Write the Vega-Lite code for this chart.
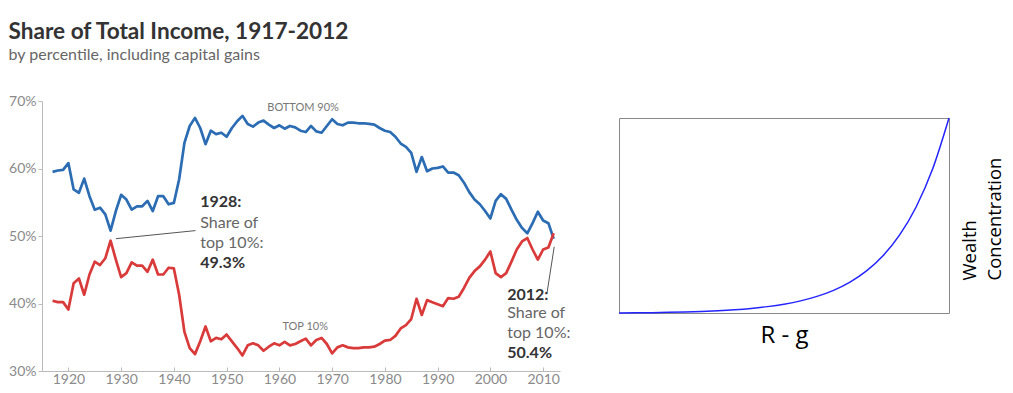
{
  "$schema": "https://vega.github.io/schema/vega-lite/v6.json",
  "background": "white",
  "padding": {"left": 8, "top": 21, "right": 0, "bottom": 0},
  "config": {"view": {"stroke": null}, "font": "Lato"},
  "spacing": 44,
  "hconcat": [
    {
      "width": 518,
      "height": 270,
      "title": {
        "text": "Share of Total Income, 1917-2012",
        "subtitle": "by percentile, including capital gains",
        "anchor": "start",
        "frame": "bounds",
        "font": "Lato",
        "fontSize": 22.6,
        "fontWeight": "bold",
        "color": "#333333",
        "subtitleFont": "Lato",
        "subtitleFontSize": 16,
        "subtitleColor": "#666666",
        "subtitlePadding": 3,
        "offset": 31
      },
      "layer": [
        {
          "data": {
            "values": [
              {"year": 1917, "bottom90": 59.5, "top10": 40.4},
              {"year": 1918, "bottom90": 59.7, "top10": 40.2},
              {"year": 1919, "bottom90": 59.8, "top10": 40.2},
              {"year": 1920, "bottom90": 60.8, "top10": 39.1},
              {"year": 1921, "bottom90": 56.9, "top10": 43.0},
              {"year": 1922, "bottom90": 56.4, "top10": 43.7},
              {"year": 1923, "bottom90": 58.5, "top10": 41.3},
              {"year": 1924, "bottom90": 55.9, "top10": 44.3},
              {"year": 1925, "bottom90": 53.9, "top10": 46.2},
              {"year": 1926, "bottom90": 54.2, "top10": 45.7},
              {"year": 1927, "bottom90": 53.2, "top10": 46.7},
              {"year": 1928, "bottom90": 50.8, "top10": 49.3},
              {"year": 1929, "bottom90": 53.7, "top10": 46.5},
              {"year": 1930, "bottom90": 56.1, "top10": 43.9},
              {"year": 1931, "bottom90": 55.4, "top10": 44.5},
              {"year": 1932, "bottom90": 53.9, "top10": 46.1},
              {"year": 1933, "bottom90": 54.4, "top10": 45.6},
              {"year": 1934, "bottom90": 54.4, "top10": 45.6},
              {"year": 1935, "bottom90": 55.2, "top10": 44.7},
              {"year": 1936, "bottom90": 53.7, "top10": 46.5},
              {"year": 1937, "bottom90": 55.9, "top10": 44.3},
              {"year": 1938, "bottom90": 55.9, "top10": 44.3},
              {"year": 1939, "bottom90": 54.7, "top10": 45.3},
              {"year": 1940, "bottom90": 54.9, "top10": 45.2},
              {"year": 1941, "bottom90": 58.4, "top10": 41.3},
              {"year": 1942, "bottom90": 63.8, "top10": 35.8},
              {"year": 1943, "bottom90": 66.3, "top10": 33.4},
              {"year": 1944, "bottom90": 67.5, "top10": 32.5},
              {"year": 1945, "bottom90": 66.0, "top10": 34.4},
              {"year": 1946, "bottom90": 63.6, "top10": 36.6},
              {"year": 1947, "bottom90": 65.6, "top10": 34.4},
              {"year": 1948, "bottom90": 65.1, "top10": 34.9},
              {"year": 1949, "bottom90": 65.3, "top10": 34.7},
              {"year": 1950, "bottom90": 64.7, "top10": 35.4},
              {"year": 1951, "bottom90": 66.0, "top10": 34.4},
              {"year": 1952, "bottom90": 67.0, "top10": 33.4},
              {"year": 1953, "bottom90": 67.8, "top10": 32.3},
              {"year": 1954, "bottom90": 66.6, "top10": 33.8},
              {"year": 1955, "bottom90": 66.2, "top10": 34.1},
              {"year": 1956, "bottom90": 66.8, "top10": 33.8},
              {"year": 1957, "bottom90": 67.1, "top10": 33.0},
              {"year": 1958, "bottom90": 66.5, "top10": 33.6},
              {"year": 1959, "bottom90": 66.0, "top10": 34.1},
              {"year": 1960, "bottom90": 66.4, "top10": 33.8},
              {"year": 1961, "bottom90": 65.9, "top10": 34.3},
              {"year": 1962, "bottom90": 66.3, "top10": 33.8},
              {"year": 1963, "bottom90": 66.1, "top10": 34.0},
              {"year": 1964, "bottom90": 65.6, "top10": 34.4},
              {"year": 1965, "bottom90": 65.4, "top10": 34.8},
              {"year": 1966, "bottom90": 66.3, "top10": 33.8},
              {"year": 1967, "bottom90": 65.5, "top10": 34.6},
              {"year": 1968, "bottom90": 65.3, "top10": 34.9},
              {"year": 1969, "bottom90": 66.3, "top10": 34.0},
              {"year": 1970, "bottom90": 67.3, "top10": 32.6},
              {"year": 1971, "bottom90": 66.6, "top10": 33.5},
              {"year": 1972, "bottom90": 66.4, "top10": 33.8},
              {"year": 1973, "bottom90": 66.8, "top10": 33.5},
              {"year": 1974, "bottom90": 66.8, "top10": 33.4},
              {"year": 1975, "bottom90": 66.7, "top10": 33.4},
              {"year": 1976, "bottom90": 66.7, "top10": 33.5},
              {"year": 1977, "bottom90": 66.6, "top10": 33.5},
              {"year": 1978, "bottom90": 66.5, "top10": 33.6},
              {"year": 1979, "bottom90": 66.0, "top10": 34.0},
              {"year": 1980, "bottom90": 65.6, "top10": 34.5},
              {"year": 1981, "bottom90": 65.4, "top10": 34.6},
              {"year": 1982, "bottom90": 64.7, "top10": 35.2},
              {"year": 1983, "bottom90": 63.7, "top10": 36.3},
              {"year": 1984, "bottom90": 63.2, "top10": 36.8},
              {"year": 1985, "bottom90": 62.3, "top10": 37.7},
              {"year": 1986, "bottom90": 59.5, "top10": 40.7},
              {"year": 1987, "bottom90": 61.7, "top10": 38.3},
              {"year": 1988, "bottom90": 59.6, "top10": 40.5},
              {"year": 1989, "bottom90": 60.0, "top10": 40.2},
              {"year": 1990, "bottom90": 60.1, "top10": 39.9},
              {"year": 1991, "bottom90": 60.3, "top10": 39.6},
              {"year": 1992, "bottom90": 59.4, "top10": 40.8},
              {"year": 1993, "bottom90": 59.4, "top10": 40.7},
              {"year": 1994, "bottom90": 59.0, "top10": 41.0},
              {"year": 1995, "bottom90": 57.9, "top10": 42.3},
              {"year": 1996, "bottom90": 56.5, "top10": 43.8},
              {"year": 1997, "bottom90": 55.4, "top10": 44.8},
              {"year": 1998, "bottom90": 54.7, "top10": 45.5},
              {"year": 1999, "bottom90": 53.7, "top10": 46.5},
              {"year": 2000, "bottom90": 52.6, "top10": 47.7},
              {"year": 2001, "bottom90": 55.2, "top10": 44.5},
              {"year": 2002, "bottom90": 56.2, "top10": 43.9},
              {"year": 2003, "bottom90": 55.5, "top10": 44.5},
              {"year": 2004, "bottom90": 53.9, "top10": 46.2},
              {"year": 2005, "bottom90": 52.4, "top10": 48.0},
              {"year": 2006, "bottom90": 51.2, "top10": 49.2},
              {"year": 2007, "bottom90": 50.4, "top10": 49.7},
              {"year": 2008, "bottom90": 51.9, "top10": 48.0},
              {"year": 2009, "bottom90": 53.6, "top10": 46.5},
              {"year": 2010, "bottom90": 52.3, "top10": 48.0},
              {"year": 2011, "bottom90": 51.9, "top10": 48.3},
              {"year": 2012, "bottom90": 49.6, "top10": 50.4}
            ]
          },
          "transform": [{"fold": ["bottom90", "top10"], "as": ["series", "share"]}],
          "mark": {"type": "line", "strokeWidth": 2.7, "strokeJoin": "round"},
          "encoding": {
            "x": {
              "field": "year",
              "type": "quantitative",
              "scale": {"domain": [1915, 2013.2], "nice": false, "zero": false},
              "axis": {
                "title": null,
                "values": [1920, 1930, 1940, 1950, 1960, 1970, 1980, 1990, 2000, 2010],
                "format": "d",
                "grid": false,
                "domainColor": "#bbbbbb",
                "tickColor": "#bbbbbb",
                "tickSize": -4,
                "labelPadding": 5,
                "labelColor": "#8a8a8a",
                "labelFont": "Lato",
                "labelFontSize": 14
              }
            },
            "y": {
              "field": "share",
              "type": "quantitative",
              "scale": {"domain": [30, 70], "nice": false, "zero": false},
              "axis": {
                "title": null,
                "values": [30, 35, 40, 45, 50, 55, 60, 65, 70],
                "labelExpr": "datum.value + '%'",
                "grid": false,
                "domainColor": "#bbbbbb",
                "tickColor": "#bbbbbb",
                "tickSize": 4,
                "labelPadding": 2,
                "labelColor": "#8a8a8a",
                "labelFont": "Lato",
                "labelFontSize": 14
              }
            },
            "color": {
              "field": "series",
              "type": "nominal",
              "scale": {"domain": ["bottom90", "top10"], "range": ["#2b6cb3", "#d93a3a"]},
              "legend": null
            }
          }
        },
        {
          "data": {
            "values": [
              {"year": 1929, "share": 49.6, "year2": 1944.1, "share2": 50.8},
              {"year": 2010.75, "share": 41.6, "year2": 2012.1, "share2": 48.4}
            ]
          },
          "mark": {"type": "rule", "color": "#555555", "strokeWidth": 1},
          "encoding": {
            "x": {"field": "year", "type": "quantitative"},
            "y": {"field": "share", "type": "quantitative"},
            "x2": {"field": "year2"},
            "y2": {"field": "share2"}
          }
        },
        {
          "data": {
            "values": [
              {"year": 1945, "share": 55.0, "label": "1928:"},
              {"year": 1945, "share": 46.0, "label": "49.3%"},
              {"year": 2003.2, "share": 41.3, "label": "2012:"},
              {"year": 2003.2, "share": 32.7, "label": "50.4%"}
            ]
          },
          "mark": {"type": "text", "align": "left", "baseline": "middle", "font": "Lato", "fontSize": 16, "fontWeight": "bold", "color": "#333333"},
          "encoding": {
            "x": {"field": "year", "type": "quantitative"},
            "y": {"field": "share", "type": "quantitative"},
            "text": {"field": "label"}
          }
        },
        {
          "data": {
            "values": [
              {"year": 1945, "share": 52.0, "label": "Share of"},
              {"year": 1945, "share": 49.0, "label": "top 10%:"},
              {"year": 2003.2, "share": 38.6, "label": "Share of"},
              {"year": 2003.2, "share": 35.7, "label": "top 10%:"}
            ]
          },
          "mark": {"type": "text", "align": "left", "baseline": "middle", "font": "Lato", "fontSize": 16, "color": "#666666"},
          "encoding": {
            "x": {"field": "year", "type": "quantitative"},
            "y": {"field": "share", "type": "quantitative"},
            "text": {"field": "label"}
          }
        },
        {
          "data": {
            "values": [
              {"year": 1964.5, "share": 69.0, "label": "BOTTOM 90%"},
              {"year": 1964.9, "share": 36.5, "label": "TOP 10%"}
            ]
          },
          "mark": {"type": "text", "align": "center", "baseline": "middle", "font": "Lato", "fontSize": 11, "color": "#777777"},
          "encoding": {
            "x": {"field": "year", "type": "quantitative"},
            "y": {"field": "share", "type": "quantitative"},
            "text": {"field": "label"}
          }
        }
      ]
    },
    {
      "spacing": 7,
      "vconcat": [
        {
          "width": 330,
          "height": 1,
          "data": {"values": [{"blank": ""}]},
          "mark": {"type": "text", "opacity": 0},
          "encoding": {"text": {"field": "blank"}}
        },
        {
          "width": 330,
          "height": 195,
          "view": {"stroke": "#888888", "strokeWidth": 1},
          "data": {
            "values": [
              {"rg": 0.0, "wc": 0.0},
              {"rg": 0.05, "wc": 0.0008},
              {"rg": 0.1, "wc": 0.0019},
              {"rg": 0.15, "wc": 0.0034},
              {"rg": 0.2, "wc": 0.0054},
              {"rg": 0.25, "wc": 0.0081},
              {"rg": 0.3, "wc": 0.0118},
              {"rg": 0.35, "wc": 0.0168},
              {"rg": 0.4, "wc": 0.0235},
              {"rg": 0.45, "wc": 0.0327},
              {"rg": 0.5, "wc": 0.0452},
              {"rg": 0.55, "wc": 0.0621},
              {"rg": 0.6, "wc": 0.0851},
              {"rg": 0.65, "wc": 0.1163},
              {"rg": 0.7, "wc": 0.1585},
              {"rg": 0.75, "wc": 0.2158},
              {"rg": 0.8, "wc": 0.2936},
              {"rg": 0.85, "wc": 0.3992},
              {"rg": 0.9, "wc": 0.5424},
              {"rg": 0.95, "wc": 0.7366},
              {"rg": 1.0, "wc": 1.0}
            ]
          },
          "mark": {"type": "line", "color": "#2424ff", "strokeWidth": 1.5, "interpolate": "monotone"},
          "encoding": {
            "x": {
              "field": "rg",
              "type": "quantitative",
              "scale": {"domain": [0, 1], "nice": false},
              "axis": {
                "title": "R - g",
                "labels": false,
                "ticks": false,
                "domain": false,
                "grid": false,
                "titleFont": "Open Sans",
                "titleFontSize": 24,
                "titleFontWeight": "normal",
                "titleColor": "#000000",
                "titlePadding": 10
              }
            },
            "y": {
              "field": "wc",
              "type": "quantitative",
              "scale": {"domain": [0, 1], "nice": false},
              "axis": {
                "orient": "right",
                "title": ["Wealth", "Concentration"],
                "labels": false,
                "ticks": false,
                "domain": false,
                "grid": false,
                "titleFont": "Open Sans",
                "titleFontSize": 18.5,
                "titleFontWeight": "normal",
                "titleColor": "#000000",
                "titleAngle": -90,
                "titleAlign": "left",
                "titleBaseline": "top",
                "titleLineHeight": 25,
                "titleX": 11,
                "titleY": 162
              }
            }
          }
        }
      ]
    }
  ]
}
